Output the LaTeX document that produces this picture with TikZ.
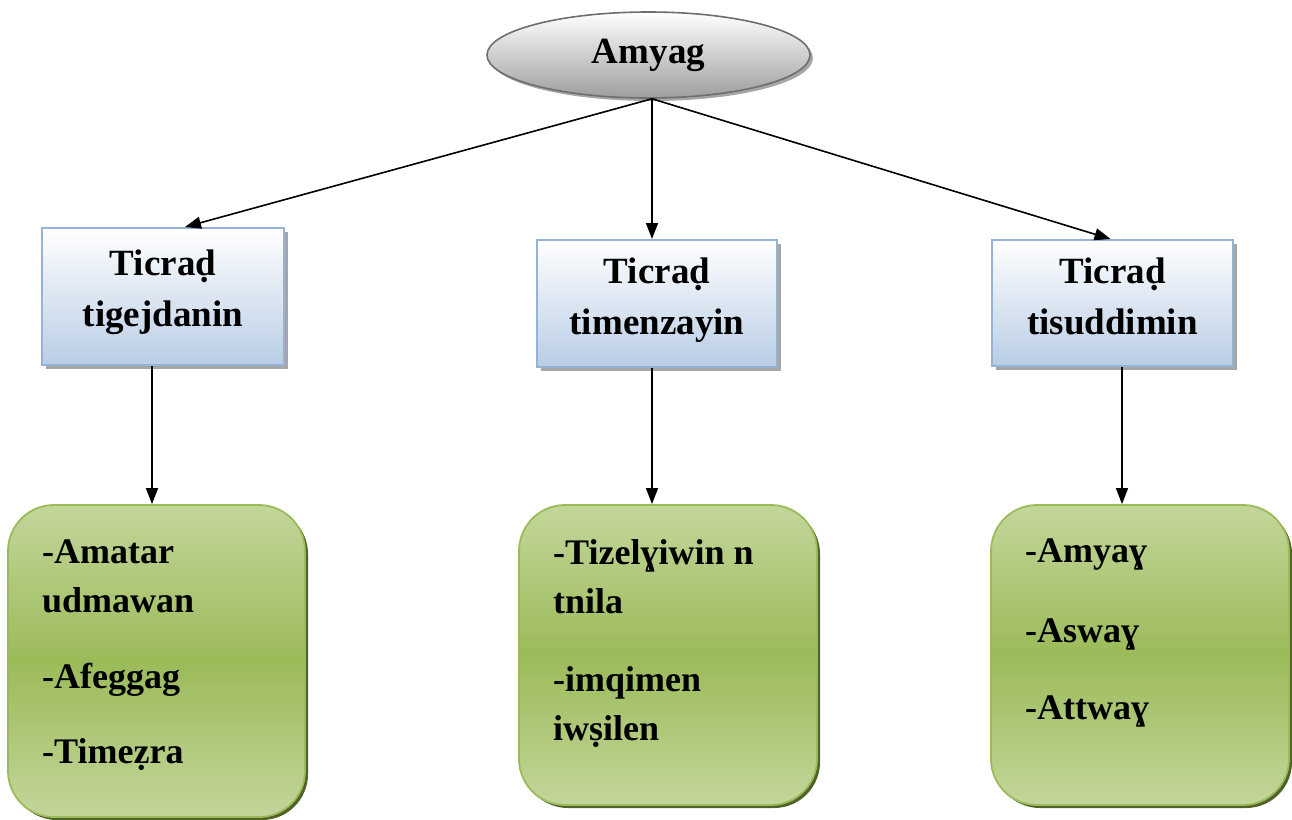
\documentclass[tikz,border=0pt]{standalone}
\usepackage{fontspec}
\setmainfont{Liberation Serif}
\usetikzlibrary{shapes.geometric,arrows.meta,calc}
\definecolor{bluefill}{HTML}{B9CDE5}
\definecolor{blueline}{HTML}{95B3D7}
\definecolor{greenmid}{HTML}{9BBB59}
\definecolor{greenlight}{HTML}{C3D69B}
\definecolor{greenshadow}{HTML}{4F6228}
\definecolor{ellline}{HTML}{6E6E6E}
\tikzset{
  ellbox/.style={ellipse, draw=ellline, line width=1.6pt, top color=white, bottom color=black!38, minimum width=323pt, minimum height=86pt, inner sep=0pt},
  bluebox/.style={rectangle, draw=blueline, line width=2pt, top color=white, bottom color=bluefill, minimum width=242pt, minimum height=137pt, inner sep=0pt},
  greenbox/.style={rectangle, rounded corners=46pt, draw=greenmid, line width=1.8pt, top color=greenlight, bottom color=greenlight, middle color=greenmid, inner sep=0pt},
  shadowgray/.style={fill=black!35},
  shadowgreen/.style={rounded corners=46pt, fill=greenshadow},
  txt/.style={font=\bfseries\fontsize{36}{49}\selectfont, inner sep=0pt, align=left},
  btxt/.style={font=\bfseries\fontsize{37}{51}\selectfont, inner sep=0pt, align=center},
  conn/.style={line width=1.6pt, -{Triangle[length=16pt,width=12pt]}}
}
\begin{document}
\begin{tikzpicture}[x=1pt,y=-1pt]
\useasboundingbox (0,0) rectangle (1292,819);
% shadows
\fill[black!35] (651.5,58) ellipse [x radius=161.5pt, y radius=43pt];
\fill[shadowgray] (46,232) rectangle (288,369);
\fill[shadowgray] (541,244) rectangle (781,371);
\fill[shadowgray] (996,244) rectangle (1237,370);
\fill[shadowgreen] (11,508) rectangle (308,820);
\fill[shadowgreen] (522,508) rectangle (820,808);
\fill[shadowgreen] (994,508) rectangle (1292,808);
% nodes
\node[ellbox] (ell) at (648.5,55) {};
\node[font=\bfseries\fontsize{37}{44}\selectfont] (elltxt) at (648.5,55) {Amyag};
\node[bluebox] (b1) at (163,296.5) {};
\node[bluebox, minimum width=240pt, minimum height=127pt] (b2) at (657,303.5) {};
\node[bluebox, minimum width=241pt, minimum height=126pt] (b3) at (1112.5,303) {};
\node[btxt, anchor=north] (t1) at (163,250) {Ticraḍ\\tigejdanin};
\node[btxt, anchor=north] (t2) at (657,258) {Ticraḍ\\timenzayin};
\node[btxt, anchor=north] (t3) at (1112.5,258) {Ticraḍ\\tisuddimin};
\node[greenbox, minimum width=297pt, minimum height=312pt] (g1) at (156.5,661) {};
\node[greenbox, minimum width=298pt, minimum height=300pt] (g2) at (668,655) {};
\node[greenbox, minimum width=298pt, minimum height=300pt] (g3) at (1140,655) {};
\node[txt, anchor=north west] (l1) at (42,540) {-Amatar\\udmawan\\[27pt]-Afeggag\\[26pt]-Timeẓra};
\node[txt, anchor=north west] (l2) at (553,539) {-Tizelɣiwin n\\tnila\\[29pt]-imqimen\\iwṣilen};
\node[txt, anchor=north west] (l3) at (1025,539) {-Amyaɣ\\[31pt]-Aswaɣ\\[28pt]-Attwaɣ};
% connectors
\draw[conn] ([xshift=3.5]ell.south) -- ([xshift=22]b1.north);
\draw[conn] ([xshift=3.5]ell.south) -- ([xshift=-5]b2.north);
\draw[conn] ([xshift=3.5]ell.south) -- ([xshift=-2]b3.north);
\draw[conn] ([xshift=-11]b1.south) -- ([xshift=-11]b1.south |- g1.north);
\draw[conn] ([xshift=-5]b2.south) -- ([xshift=-5]b2.south |- g2.north);
\draw[conn] ([xshift=9.5]b3.south) -- ([xshift=9.5]b3.south |- g3.north);
\end{tikzpicture}
\end{document}
